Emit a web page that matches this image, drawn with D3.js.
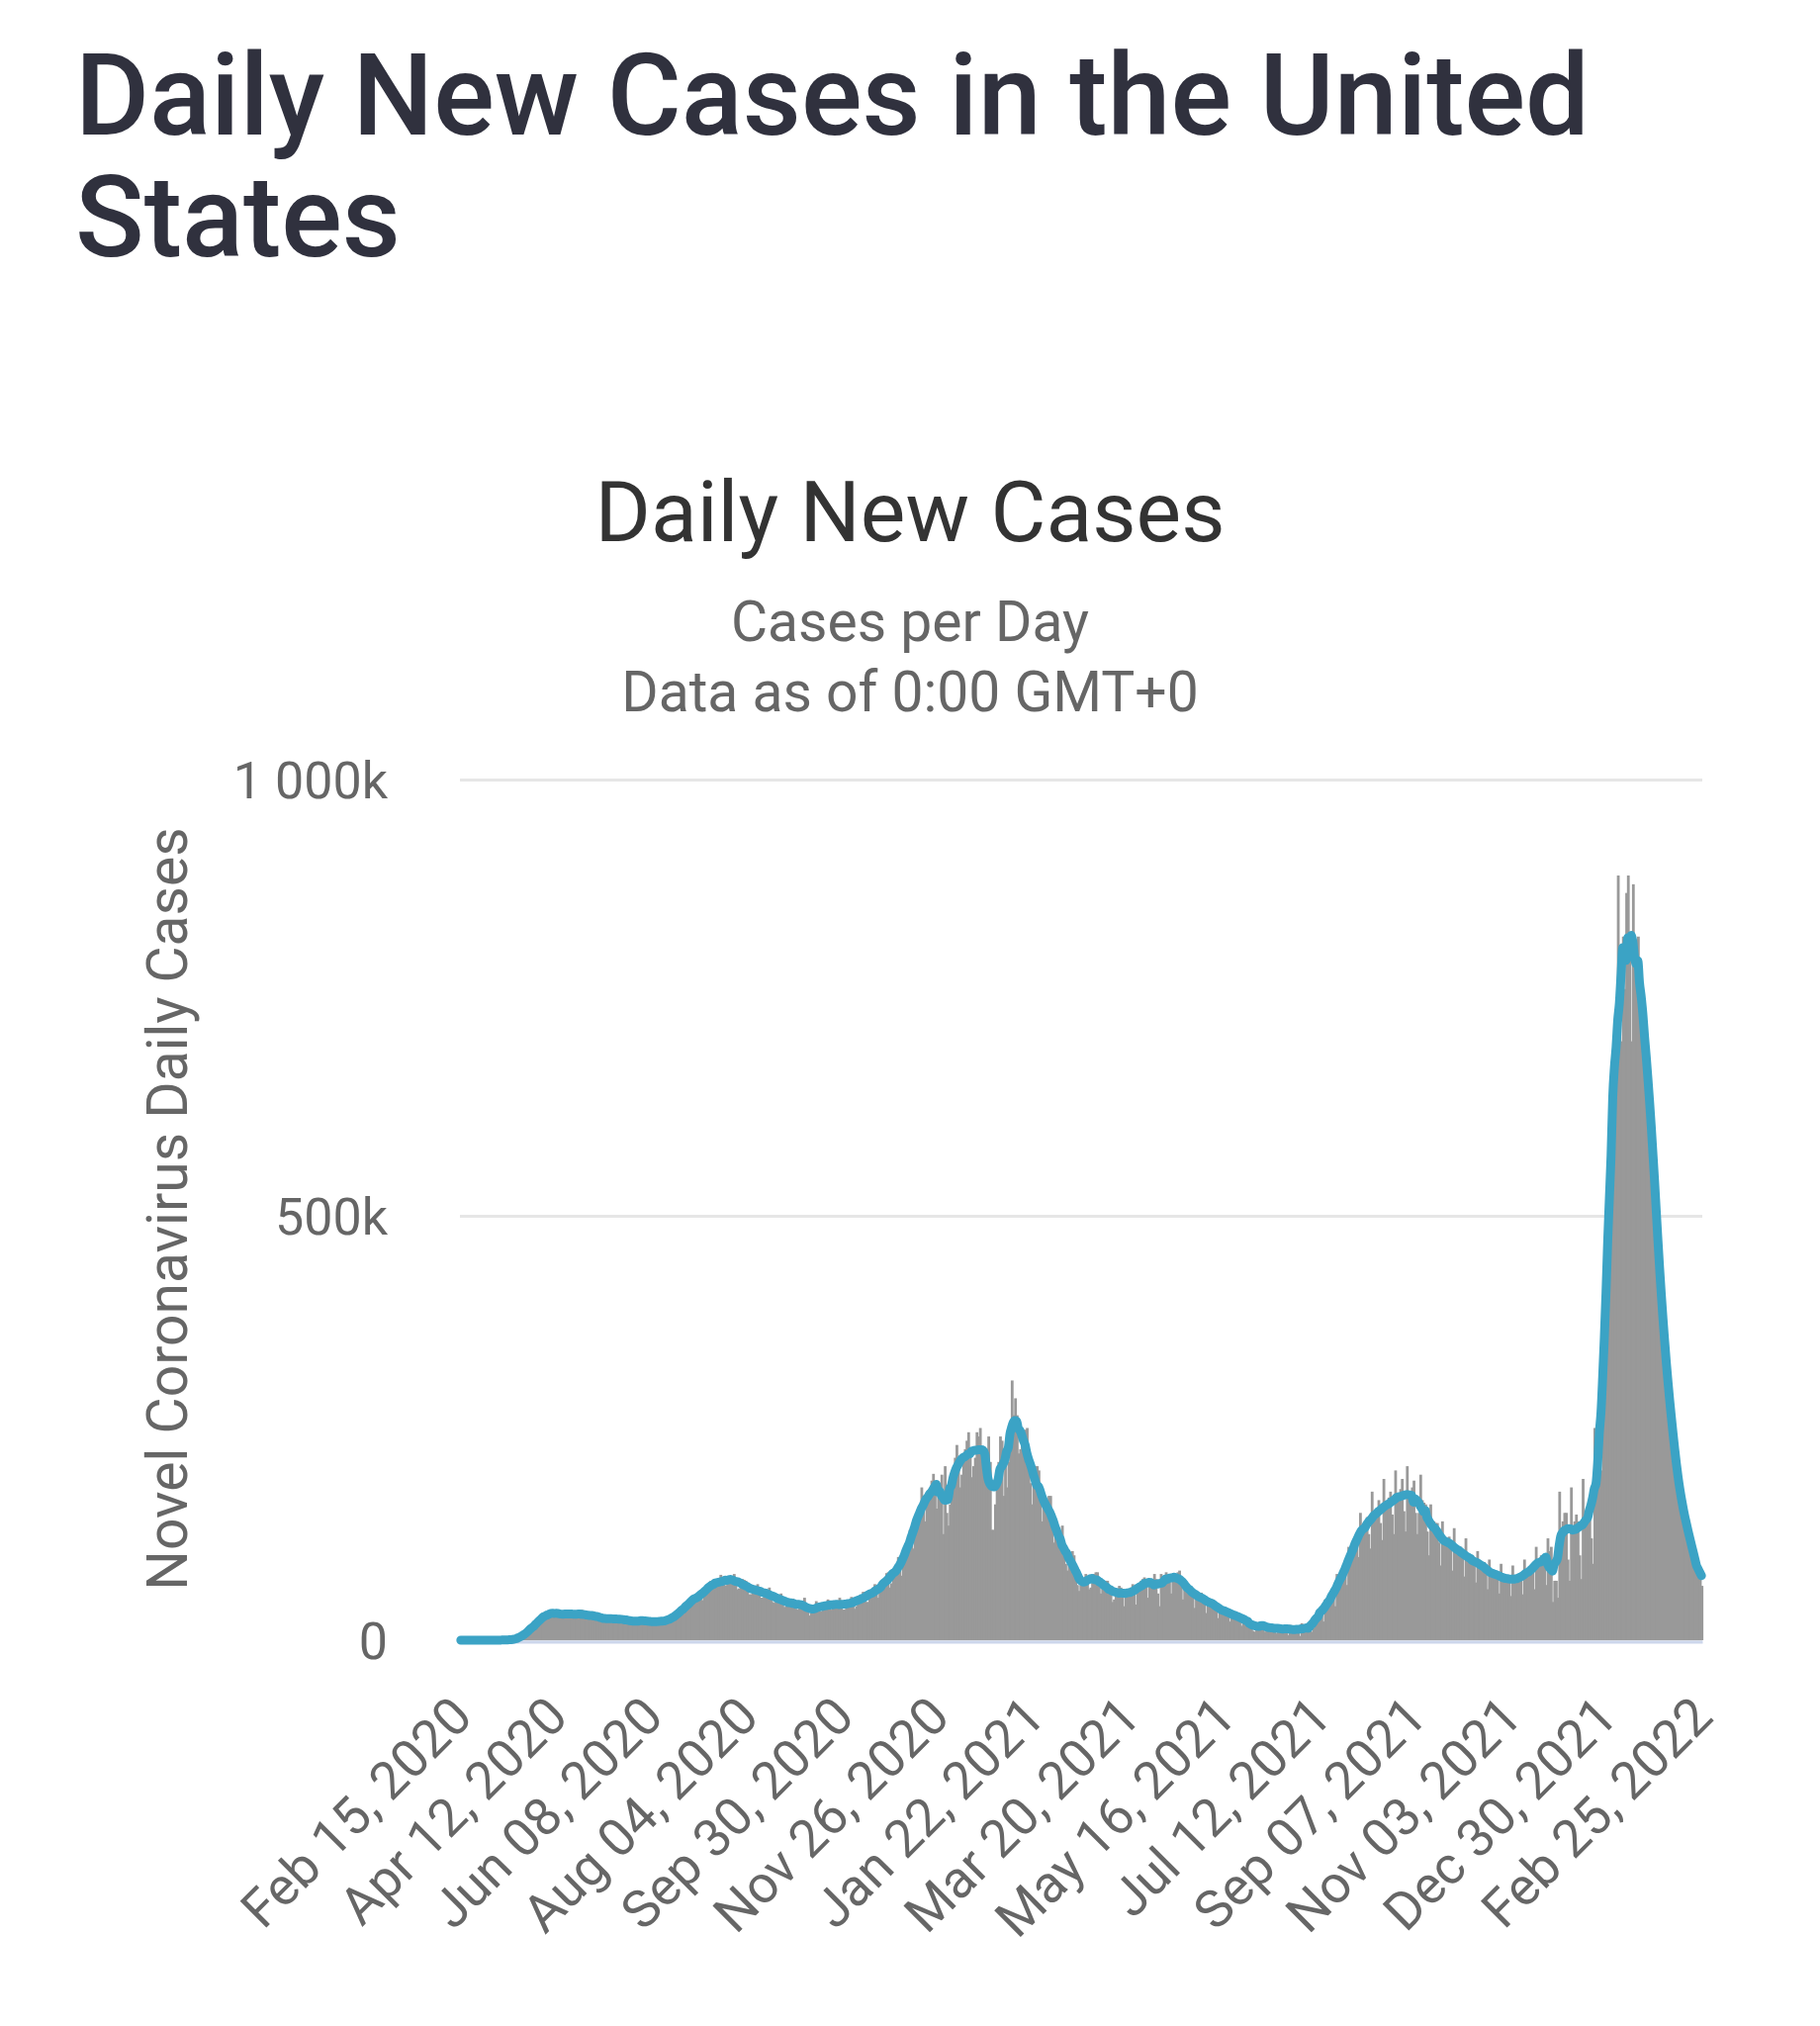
<!DOCTYPE html>
<html>
<head>
<meta charset="utf-8">
<script src="https://cdn.jsdelivr.net/npm/d3@7"></script>
<style>
  html, body { margin: 0; padding: 0; background: #fff; }
  svg { display: block; font-family: Roboto, "Noto Sans", sans-serif; }
</style>
</head>
<body>
<svg id="chart" width="1840" height="2048"></svg>
<script>
// daily new cases, thousands, one value per day from Feb 15, 2020
const startDate = new Date(2020, 1, 15);
const casesK = [
  0, 0, 0,
  0, 0, 0, 0, 0, 0, 0,
  0, 0, 0, 0, 0, 0, 0,
  0, 0, 0, 0, 0.1, 0.1, 0.1,
  0.1, 0.1, 0.2, 0.3, 0.4, 0.5, 0.6,
  0.8, 0.9, 1.2, 1.9, 2.9, 4.6, 5.8,
  7, 8, 10, 11, 13, 17, 19,
  20, 19, 22, 26, 27, 30, 32,
  33, 27, 29, 32, 33, 35, 34,
  31, 28, 27, 29, 31, 34, 36,
  31, 28, 27, 29, 30, 34, 36,
  33, 27, 25, 27, 29, 31, 34,
  30, 27, 23, 25, 26, 29, 28,
  27, 22, 22, 24, 25, 29, 28,
  26, 21, 22, 23, 25, 27, 26,
  24, 20, 19, 20, 23, 25, 26,
  25, 20, 21, 22, 21, 24, 25,
  23, 19, 19, 21, 22, 24, 26,
  25, 20, 20, 24, 26, 29, 32,
  33, 27, 30, 35, 38, 41, 45,
  43, 41, 43, 47, 52, 55, 57,
  50, 47, 53, 60, 62, 66, 70,
  63, 61, 64, 68, 69, 77, 73,
  67, 64, 67, 72, 75, 75, 78,
  71, 60, 61, 66, 72, 71, 70,
  62, 54, 54, 60, 62, 64, 66,
  58, 50, 50, 56, 58, 57, 62,
  55, 45, 44, 50, 52, 52, 55,
  48, 39, 40, 43, 47, 47, 49,
  45, 37, 36, 41, 42, 45, 50,
  42, 33, 29, 32, 37, 40, 46,
  40, 34, 34, 39, 40, 44, 48,
  43, 36, 38, 40, 42, 45, 50,
  45, 36, 36, 42, 42, 46, 51,
  49, 37, 40, 45, 49, 52, 57,
  53, 45, 45, 52, 57, 62, 66,
  58, 50, 56, 62, 64, 72, 79,
  80, 62, 67, 75, 80, 89, 98,
  88, 76, 91, 95, 105, 120, 130,
  126, 108, 122, 140, 145, 160, 180,
  162, 140, 158, 164, 175, 188, 196,
  185, 155, 180, 185, 195, 125, 205,
  150, 135, 160, 185, 200, 215, 230,
  215, 180, 195, 212, 225, 235, 245,
  220, 192, 205, 215, 245, 240, 250,
  220, 195, 205, 215, 240, 210, 130,
  130, 160, 185, 210, 240, 235, 170,
  210, 180, 210, 245, 306, 265, 285,
  265, 220, 225, 240, 245, 248, 250,
  220, 185, 160, 190, 205, 205, 200,
  175, 140, 155, 155, 160, 170, 170,
  150, 115, 130, 120, 125, 125, 135,
  110, 90, 82, 95, 98, 105, 100,
  85, 65, 58, 65, 72, 72, 78,
  74, 60, 62, 75, 78, 80, 80,
  68, 55, 62, 62, 70, 70, 65,
  60, 45, 48, 58, 60, 64, 62,
  55, 40, 52, 55, 60, 62, 66,
  58, 42, 58, 62, 70, 72, 74,
  66, 50, 70, 68, 72, 78, 72,
  55, 40, 78, 68, 76, 80, 76,
  72, 55, 75, 78, 78, 80, 82,
  68, 48, 70, 68, 66, 64, 62,
  52, 38, 56, 55, 56, 56, 52,
  44, 32, 50, 46, 46, 48, 46,
  38, 26, 40, 36, 38, 38, 36,
  32, 22, 34, 30, 32, 32, 30,
  26, 17, 28, 24, 26, 26, 23,
  17, 11, 10, 17, 20, 22, 19,
  16, 10, 17, 16, 16, 16, 15,
  14, 8, 16, 13, 15, 16, 14,
  12, 6, 18, 13, 14, 14, 13,
  10, 5, 20, 14, 15, 17, 13,
  14, 10, 14, 30, 30, 32, 34,
  32, 22, 48, 42, 45, 50, 55,
  52, 40, 78, 65, 70, 76, 88,
  80, 65, 110, 95, 105, 112, 122,
  112, 98, 150, 125, 135, 140, 145,
  125, 108, 175, 145, 150, 155, 165,
  138, 118, 190, 155, 162, 168, 175,
  148, 125, 200, 165, 172, 178, 190,
  152, 128, 205, 170, 176, 180, 188,
  150, 125, 150, 195, 165, 162, 160,
  128, 100, 160, 140, 140, 138, 138,
  115, 88, 140, 118, 120, 120, 122,
  108, 82, 132, 110, 108, 108, 110,
  98, 75, 120, 100, 98, 98, 100,
  90, 68, 105, 92, 92, 92, 92,
  80, 60, 95, 80, 80, 82, 80,
  75, 55, 90, 75, 74, 75, 74,
  70, 52, 88, 72, 72, 75, 74,
  74, 54, 95, 78, 80, 85, 85,
  82, 60, 110, 90, 95, 100, 98,
  88, 65, 120, 105, 110, 45, 70,
  70, 50, 175, 125, 140, 150, 150,
  95, 70, 180, 135, 140, 148, 140,
  100, 72, 190, 145, 150, 155, 160,
  120, 90, 250, 190, 210, 230, 200,
  290, 340, 420, 480, 540, 600, 620, 640, 680, 890,
  720, 700, 820, 760, 870, 890, 810, 700, 880, 800,
  800, 820, 770, 750, 725, 705, 690, 660, 640, 610,
  575, 540, 505, 470, 440, 400, 370, 345, 325, 305,
  285, 262, 240, 220, 205, 190, 176, 165, 154, 145,
  136, 128, 121, 114, 104, 96, 88, 80, 72, 64
];

const tickLabels = [
  'Feb 15, 2020', 'Apr 12, 2020', 'Jun 08, 2020', 'Aug 04, 2020', 'Sep 30, 2020',
  'Nov 26, 2020', 'Jan 22, 2021', 'Mar 20, 2021', 'May 16, 2021', 'Jul 12, 2021',
  'Sep 07, 2021', 'Nov 03, 2021', 'Dec 30, 2021', 'Feb 25, 2022'
];
const tickStep = 57;

const yTicks = [0, 500, 1000];
const yTickLabels = ['0', '500k', '1 000k'];

const margin = { top: 788, right: 119, bottom: 390, left: 465 };
const width = 1840 - margin.left - margin.right;
const height = 2048 - margin.top - margin.bottom;

const days = casesK.map((v, i) => d3.timeDay.offset(startDate, i));
// 7-day moving average (centred)
const avg7 = casesK.map((v, i) => d3.mean(casesK.slice(Math.max(0, i - 3), i + 4)));

const x = d3.scaleBand().domain(days).range([0, width]).padding(0);
const y = d3.scaleLinear().domain([0, 500, 1000]).range([height, height - 429, 0]);

const svg = d3.select('#chart');
svg.append('rect').attr('width', 1840).attr('height', 2048).attr('fill', '#fff');

// titles
const title = svg.append('text')
  .attr('x', 76).attr('y', 136)
  .attr('fill', '#30313e')
  .attr('font-size', 115)
  .attr('font-weight', 500);
title.append('tspan').attr('x', 76).text('Daily New Cases in the United');
title.append('tspan').attr('x', 76).attr('y', 259).text('States');

svg.append('text')
  .attr('x', 920).attr('y', 547)
  .attr('text-anchor', 'middle')
  .attr('fill', '#333')
  .attr('font-size', 86)
  .text('Daily New Cases');

svg.append('text')
  .attr('x', 920).attr('y', 648)
  .attr('text-anchor', 'middle')
  .attr('fill', '#666')
  .attr('font-size', 57)
  .text('Cases per Day');

svg.append('text')
  .attr('x', 920).attr('y', 719)
  .attr('text-anchor', 'middle')
  .attr('fill', '#666')
  .attr('font-size', 57)
  .text('Data as of 0:00 GMT+0');

svg.append('text')
  .attr('transform', 'translate(189, 1222) rotate(-90)')
  .attr('text-anchor', 'middle')
  .attr('fill', '#666')
  .attr('font-size', 57)
  .text('Novel Coronavirus Daily Cases');

const g = svg.append('g')
  .attr('transform', `translate(${margin.left}, ${margin.top})`);

// grid + y labels
const yAxis = g.append('g')
  .call(d3.axisLeft(y)
    .tickValues(yTicks)
    .tickSize(-width)
    .tickPadding(73)
    .tickFormat((d, i) => yTickLabels[i]));
yAxis.select('.domain').remove();
yAxis.selectAll('line').attr('stroke', '#e6e6e6').attr('stroke-width', 3);
yAxis.selectAll('text')
  .attr('font-size', 52)
  .attr('font-family', 'Roboto')
  .attr('fill', '#666')
  .attr('dy', '0.35em');

// bars
g.selectAll('.bar')
  .data(days)
  .enter().append('rect')
  .attr('class', 'bar')
  .attr('x', d => x(d))
  .attr('width', x.bandwidth() + 1.1)
  .attr('y', (d, i) => y(casesK[i]))
  .attr('height', (d, i) => height - y(casesK[i]))
  .attr('fill', '#999999');

// x axis
const xAxis = g.append('g')
  .attr('transform', `translate(0, ${height})`)
  .call(d3.axisBottom(x)
    .tickValues(days.filter((d, i) => i % tickStep === 0))
    .tickSize(0)
    .tickFormat((d, i) => tickLabels[i]));
xAxis.select('.domain')
  .attr('stroke', '#ccd6eb')
  .attr('stroke-width', 3)
  .attr('transform', 'translate(0, 1.5)');
xAxis.selectAll('text')
  .attr('font-size', 53)
  .attr('font-family', 'Roboto')
  .attr('fill', '#666')
  .attr('text-anchor', 'end')
  .attr('x', null).attr('y', null).attr('dy', null)
  .attr('transform', 'translate(14, 80) rotate(-45)');

// moving average line
const line = d3.line()
  .x((d, i) => x(days[i]) + x.bandwidth() / 2)
  .y(d => y(d))
  .curve(d3.curveMonotoneX);

g.append('path')
  .datum(avg7)
  .attr('fill', 'none')
  .attr('stroke', '#3ba3c5')
  .attr('stroke-width', 9)
  .attr('stroke-linejoin', 'round')
  .attr('stroke-linecap', 'round')
  .attr('d', line);
</script>
</body>
</html>
